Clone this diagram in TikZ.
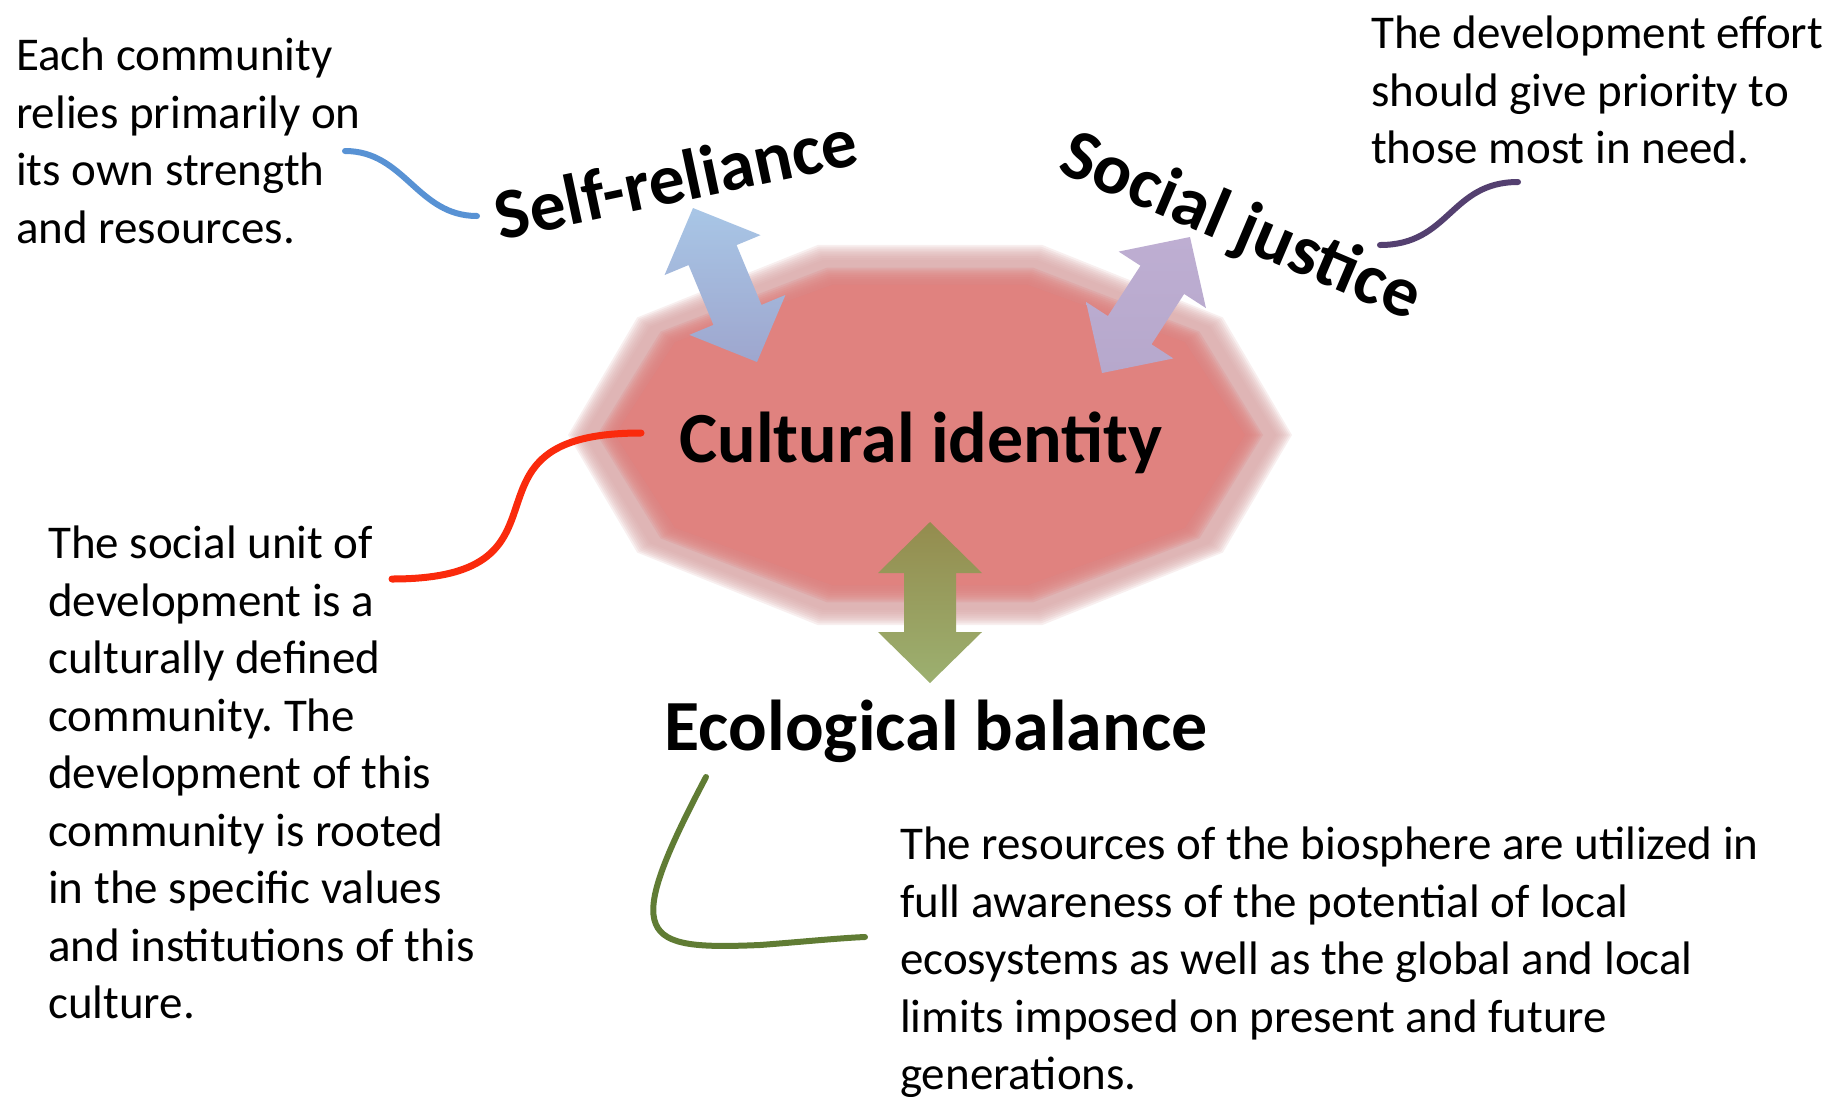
\documentclass[tikz,border=0pt]{standalone}
\usepackage{fontspec}
\setmainfont{Carlito}
\usetikzlibrary{calc}
\frenchspacing

\definecolor{ringpink}{RGB}{216,166,166}
\definecolor{corepink}{RGB}{224,130,127}
\definecolor{curveblue}{RGB}{88,146,212}
\definecolor{curvepurple}{RGB}{84,64,112}
\definecolor{curvered}{RGB}{250,42,12}
\definecolor{curvegreen}{RGB}{96,124,52}
\definecolor{arrblueA}{RGB}{168,198,230}
\definecolor{arrblueB}{RGB}{158,166,206}
\definecolor{arrpurpleA}{RGB}{190,174,210}
\definecolor{arrpurpleB}{RGB}{182,168,204}
\definecolor{arrgreenA}{RGB}{148,140,78}
\definecolor{arrgreenB}{RGB}{156,176,112}

% decagon with horizontal radius #1 and vertical radius #2
\newcommand\decapath[2]{(0:#1 and #2) -- (36:#1 and #2) -- (72:#1 and #2)
  -- (108:#1 and #2) -- (144:#1 and #2) -- (180:#1 and #2) -- (216:#1 and #2)
  -- (252:#1 and #2) -- (288:#1 and #2) -- (324:#1 and #2) -- cycle}

% double block arrow from #1 to #2, shaded #3 (top) to #4 (bottom)
\newcommand\blockarrow[4]{%
  \coordinate (ba1) at ($(#1)!51pt!(#2)$);
  \coordinate (ba2) at ($(#2)!51pt!(#1)$);
  \shade[top color=#3, bottom color=#4]
    (#1) -- ($(ba1)!52pt!90:(#2)$) -- ($(ba1)!26pt!90:(#2)$)
    -- ($(ba2)!26pt!-90:(#1)$) -- ($(ba2)!52pt!-90:(#1)$) -- (#2)
    -- ($(ba2)!52pt!90:(#1)$) -- ($(ba2)!26pt!90:(#1)$)
    -- ($(ba1)!26pt!-90:(#2)$) -- ($(ba1)!52pt!-90:(#2)$) -- cycle;
}

\begin{document}
\begin{tikzpicture}[
    x=1pt, y=-1pt,
    gloss/.style={font=\fontsize{47}{57.5}\selectfont, align=left,
      anchor=north west, inner sep=0pt},
    pillar/.style={font=\fontsize{72}{80}\selectfont\bfseries, inner sep=0pt,
      anchor=base},
    link/.style={line width=6pt, line cap=round}
  ]
  \useasboundingbox (0,0) rectangle (1845,1096);

  % --- 1. decagon (soft edged) ---
  \def\cx{930}
  \def\cy{435}
  \begin{scope}[shift={(\cx,\cy)}]
    \foreach \d in {10,8,...,-6} {
      \pgfmathsetmacro\rx{352+\d}
      \pgfmathsetmacro\ry{190+\d}
      \fill[ringpink, opacity=0.18] \decapath{\rx pt}{\ry pt};
    }
    \foreach \d in {8,6,...,-8} {
      \pgfmathsetmacro\rx{325+\d}
      \pgfmathsetmacro\ry{168+\d}
      \fill[corepink, opacity=0.22] \decapath{\rx pt}{\ry pt};
    }
    \fill[corepink] \decapath{315pt}{158pt};
  \end{scope}

  % --- 2. themes ---
  \node[pillar] (cult) at (921,462) {Cultural identity};
  \node[pillar] (eco) at (936,750) {Ecological balance};
  \node[pillar, rotate=12] (self) at (681,202) {Self-reliance};
  \node[pillar, rotate=-23] (just) at (1233,246) {Social justice};

  % --- 3. explanations ---
  \node[gloss] (selfnote) at (16,38)
    {Each community\\relies primarily on\\its own strength\\and resources.};
  \node[gloss] (justnote) at (1371,16)
    {The development effort\\should give priority to\\those most in need.};
  \node[gloss] (cultnote) at (48,526)
    {The social unit of\\development is a\\culturally defined\\community. The\\development of this\\community is rooted\\in the specific values\\and institutions of this\\culture.};
  \node[gloss] (econote) at (900,827)
    {The resources of the biosphere are utilized in\\full awareness of the potential of local\\ecosystems as well as the global and local\\limits imposed on present and future\\generations.};

  % --- 4. block arrows ---
  \coordinate (self-a) at (693,208);
  \coordinate (self-b) at (757,362);
  \coordinate (just-a) at (1190,237);
  \coordinate (just-b) at (1102,373);
  \coordinate (eco-a) at (930,522);
  \coordinate (eco-b) at (930,683);
  \blockarrow{self-a}{self-b}{arrblueA}{arrblueB}
  \blockarrow{just-a}{just-b}{arrpurpleA}{arrpurpleB}
  \blockarrow{eco-a}{eco-b}{arrgreenA}{arrgreenB}

  % --- 5. curved links ---
  \coordinate (selfnote-e) at (345,151);
  \coordinate (self-w) at (477,216);
  \draw[link, curveblue] (selfnote-e) .. controls (405,151) and (417,216) .. (self-w);

  \coordinate (justnote-s) at (1518,182);
  \coordinate (just-e) at (1380,245);
  \draw[link, curvepurple] (justnote-s) .. controls (1450,182) and (1450,245) .. (just-e);

  \coordinate (cult-w) at (641,433);
  \coordinate (cultnote-e) at (392,579);
  \draw[link, curvered, line width=7pt] (cult-w) .. controls (441,433) and (592,579) .. (cultnote-e);

  \coordinate (eco-s) at (706,777);
  \coordinate (econote-w) at (865,937);
  \draw[link, curvegreen] (eco-s) .. controls (620,940) and (640,950) .. (760,945)
    .. controls (800,942) and (840,938) .. (econote-w);
\end{tikzpicture}
\end{document}
